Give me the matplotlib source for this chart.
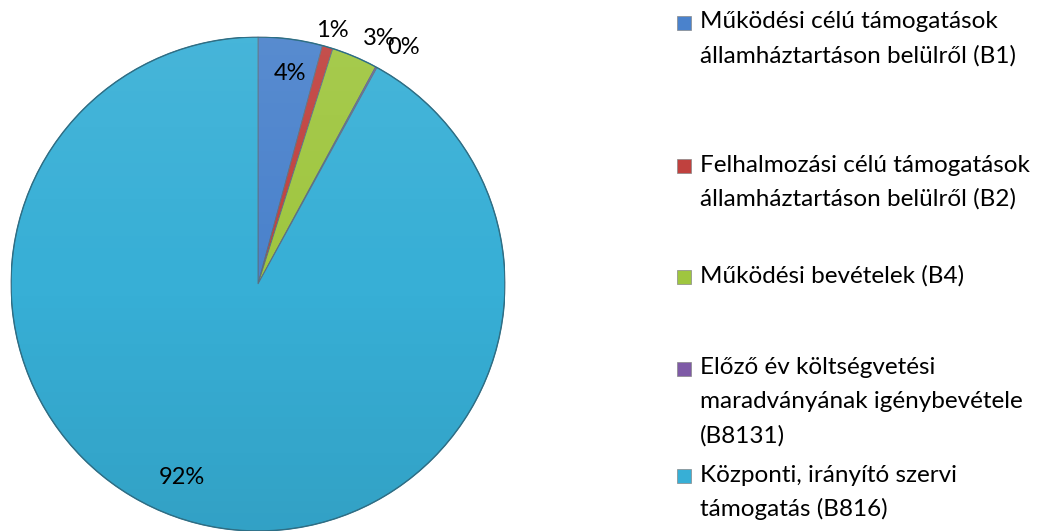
import numpy as np
import matplotlib
matplotlib.use('Agg')
from matplotlib import pyplot as plt
from matplotlib.patches import Rectangle, Circle

plt.rcParams['font.family'] = ['Lato', 'DejaVu Sans']

labels = ['Működési célú támogatások\nállamháztartáson belülről (B1)',
          'Felhalmozási célú támogatások\nállamháztartáson belülről (B2)',
          'Működési bevételek (B4)',
          'Előző év költségvetési\nmaradványának igénybevétele\n(B8131)',
          'Központi, irányító szervi\ntámogatás (B816)']
values = [4.2, 0.7, 3.0, 0.1, 92.0]
colors = ['#4a82cc', '#c0413e', '#9fc63f', '#7e5aa6', '#37afd6']

# label placement: radius factor, clockwise angle tweak (deg)
label_r = [0.86, 1.07, 1.11, 1.125, 0.84]
label_dt = [1, 0, 3.2, 3.0, 7]

fig = plt.figure(figsize=(10.4, 5.31), dpi=100)
W, H = 1040, 531
cx, cy, r = 258, 284, 247
ax = fig.add_axes([(cx - r) / W, (H - cy - r) / H, 2 * r / W, 2 * r / H])

wedges, _ = ax.pie(values, colors=colors, startangle=90, counterclock=False,
                   radius=1, wedgeprops=dict(edgecolor='#5a6e80', linewidth=0.6))
ax.set_aspect('equal')
ax.axis('off')

# soft vertical shading on the pie
grad = np.linspace(1, 0, 256)
shade = np.zeros((256, 1, 4))
shade[:, 0, :3] = (grad > 0.5)[:, None] * 1.0
shade[:, 0, 3] = np.abs(grad - 0.5) * 0.16
im = ax.imshow(shade, extent=[-1, 1, -1, 1], aspect='auto', zorder=3)
im.set_clip_path(Circle((0, 0), 1, transform=ax.transData))
ax.add_patch(Circle((0, 0), 1, fill=False, edgecolor='#2c6f86', linewidth=1.0, zorder=4))
ax.set_xlim(-1, 1)
ax.set_ylim(-1, 1)

total = sum(values)
for w, v, rf, dt in zip(wedges, values, label_r, label_dt):
    mid = np.deg2rad((w.theta1 + w.theta2) / 2 - dt)
    ax.text(rf * np.cos(mid), rf * np.sin(mid), '%d%%' % round(v / total * 100),
            ha='center', va='center', fontsize=17, color='black', zorder=5)

# legend drawn by hand to follow the original spacing
first_line_y = [22, 165, 276, 368, 475]
line_h = 34
for lab, col, y0 in zip(labels, colors, first_line_y):
    fig.patches.append(Rectangle((677 / W, 1 - (y0 + 8) / H), 14 / W, 14 / H,
                                 transform=fig.transFigure, facecolor=col,
                                 edgecolor='#888888', linewidth=0.5))
    for i, line in enumerate(lab.split('\n')):
        fig.text(700 / W, 1 - (y0 + i * line_h) / H, line, ha='left', va='center',
                 fontsize=17.5, color='black')

fig.savefig('out.png', dpi=100)
